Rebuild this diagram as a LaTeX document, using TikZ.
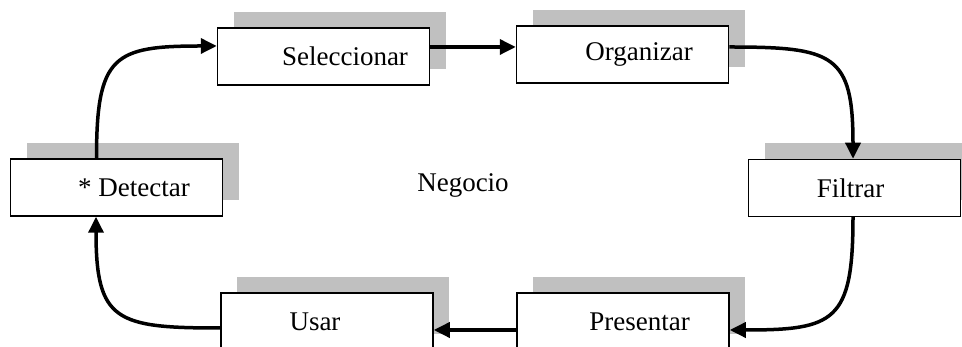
\documentclass[tikz,border=0pt]{standalone}
\usepackage{fontspec}
\setmainfont{Liberation Serif}
\usetikzlibrary{arrows.meta, shadows}
\definecolor{shadowgray}{RGB}{192,192,192}

\tikzset{
    stepbox/.style={draw, line width=1.5pt, fill=white, inner sep=0pt,
        minimum width=212pt, minimum height=57pt,
        font=\fontsize{27}{30}\selectfont,
        drop shadow={shadow xshift=16pt, shadow yshift=16pt, fill=shadowgray, opacity=1}},
    flow/.style={line width=3.5pt, -{Triangle[length=16pt, width=15pt]}}
}

\begin{document}
\begin{tikzpicture}[x=1pt, y=1pt]
    \useasboundingbox (0,0) rectangle (962,347);
    \clip (0,0) rectangle (962,347);

    % process boxes
    \node[stepbox] (detectar)     at (116.5,159.5) {\hspace*{35pt}* Detectar};
    \node[stepbox] (seleccionar)  at (323.5,290.5) {\hspace*{43pt}Seleccionar};
    \node[stepbox] (organizar)    at (622.5,292.5) {\hspace*{33pt}Organizar};
    \node[stepbox] (filtrar)      at (854.5,159)   {Filtrar\hspace*{8pt}};
    \node[stepbox] (presentar)    at (623,25.5)    {\hspace*{33pt}Presentar};
    \node[stepbox] (usar)         at (327,25.5)    {Usar\hspace*{24pt}};

    \node[font=\fontsize{27}{30}\selectfont] (negocio) at (463,162) {Negocio};

    % cycle
    \draw[flow] ([xshift=-20pt]detectar.north) to[out=90, in=180, looseness=1.6] ([yshift=10.5pt]seleccionar.west);
    \draw[flow] ([yshift=9.5pt]seleccionar.east) -- ([yshift=7.5pt]organizar.west);
    \draw[flow] ([yshift=7.5pt]organizar.east) to[out=0, in=90, looseness=1.6] ([xshift=-1.5pt]filtrar.north);
    \draw[flow] ([xshift=-1.5pt]filtrar.south) to[out=-90, in=0, looseness=1.6] ([yshift=-8.5pt]presentar.east);
    \draw[flow] ([yshift=-8.5pt]presentar.west) -- ([yshift=-8.5pt]usar.east);
    \draw[flow] ([yshift=-6.5pt]usar.west) to[out=180, in=-90, looseness=1.6] ([xshift=-20.5pt]detectar.south);
\end{tikzpicture}
\end{document}
